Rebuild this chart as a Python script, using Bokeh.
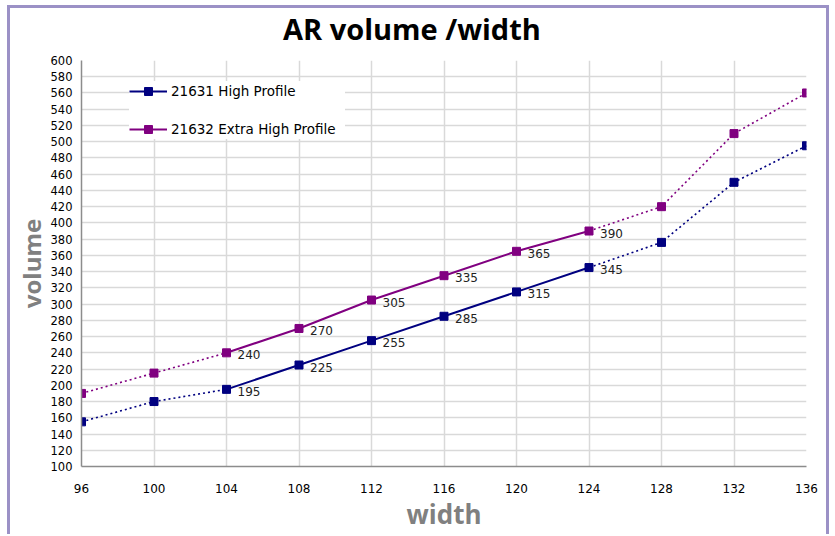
from bokeh.plotting import figure
from bokeh.models import ColumnDataSource, FixedTicker, Range1d, Legend, LegendItem, Div
from bokeh.layouts import column
from bokeh.embed import file_html
from bokeh.resources import INLINE
from bokeh.core.properties import value

# ---- data ----
widths = [96, 100, 104, 108, 112, 116, 120, 124, 128, 132, 136]
high_profile = [155, 180, 195, 225, 255, 285, 315, 345, 376, 450, 495]
extra_high_profile = [190, 215, 240, 270, 305, 335, 365, 390, 420, 510, 560]
solid_start, solid_end = 2, 7          # indices of the measured (solid) part
x_ticks = list(range(96, 137, 4))
y_ticks = list(range(100, 601, 20))
series_names = ["21631 High Profile", "21632 Extra High Profile"]
chart_title = "AR volume /width"

BLUE = "#000080"
PURPLE = "#800080"
BORDER = "3px solid #9b91c6"

title_div = Div(width=816, height=44, margin=0,
                text=('<div style="margin:7px 0 0 273px; font-family:\'Open Sans\'; '
                      'font-weight:bold; font-size:29px; line-height:28px; color:black; '
                      'white-space:nowrap;">' + chart_title + '</div>'))

p = figure(width=816, height=482, output_backend="svg", toolbar_location=None, title=None,
           x_range=Range1d(96, 136), y_range=Range1d(100, 600), margin=0,
           min_border_left=71, min_border_right=20, min_border_top=8, min_border_bottom=68)

p.outline_line_color = None
p.background_fill_color = "white"

# axes
for ax in (p.xaxis[0], p.yaxis[0]):
    ax.axis_line_color = "#8c8c8c"
    ax.axis_line_width = 1.5
    ax.major_tick_line_color = None
    ax.minor_tick_line_color = None
    ax.major_tick_out = 0
    ax.major_tick_in = 0
    ax.major_label_text_font = "DejaVu Sans"
    ax.major_label_text_color = "black"
    ax.axis_label_text_font = "Open Sans"
    ax.axis_label_text_font_style = "bold"
    ax.axis_label_text_color = "#808080"

p.xaxis.ticker = FixedTicker(ticks=x_ticks)
p.yaxis.ticker = FixedTicker(ticks=y_ticks)
p.xaxis.major_label_text_font_size = "12px"
p.yaxis.major_label_text_font_size = "11.5px"
p.xaxis.major_label_standoff = 17
p.yaxis.major_label_standoff = 9
p.xaxis.axis_label = "width"
p.yaxis.axis_label = "volume"
p.xaxis.axis_label_text_font_size = "26px"
p.yaxis.axis_label_text_font_size = "24px"
p.xaxis.axis_label_standoff = 0
p.yaxis.axis_label_standoff = 0

p.xgrid.grid_line_color = "#d9d9d9"
p.ygrid.grid_line_color = "#d9d9d9"
p.xgrid.grid_line_width = 1.5
p.ygrid.grid_line_width = 1.5

legend_items = []
for name, vals, col in ((series_names[0], high_profile, BLUE),
                        (series_names[1], extra_high_profile, PURPLE)):
    # dotted (extrapolated) parts
    p.line(widths[:solid_start + 1], vals[:solid_start + 1], line_color=col,
           line_width=1.6, line_dash="2 3")
    p.line(widths[solid_end:], vals[solid_end:], line_color=col,
           line_width=1.6, line_dash="2 3")
    # solid part
    solid = p.line(widths[solid_start:solid_end + 1], vals[solid_start:solid_end + 1],
                   line_color=col, line_width=2)
    marks = p.scatter(widths, vals, marker="square", size=8, fill_color=col, line_color=col)
    lab_src = ColumnDataSource(dict(x=widths[solid_start:solid_end + 1],
                                    y=vals[solid_start:solid_end + 1],
                                    t=[str(v) for v in vals[solid_start:solid_end + 1]]))
    p.text(x="x", y="y", text="t", source=lab_src, x_offset=11, y_offset=2,
           text_font=value("DejaVu Sans"), text_font_size="12px", text_color="#222222",
           text_baseline="middle", text_align="left")
    legend_items.append(LegendItem(label=name, renderers=[solid, marks]))

legend = Legend(items=legend_items, location=(48, 327))
legend.border_line_color = None
legend.background_fill_color = "white"
legend.background_fill_alpha = 1
legend.label_text_font = "DejaVu Sans"
legend.label_text_font_size = "13.5px"
legend.label_text_color = "black"
legend.glyph_width = 38
legend.glyph_height = 20
legend.label_height = 20
legend.label_width = 174
legend.spacing = 18
legend.padding = 11
legend.label_standoff = 4
legend.margin = 0
p.add_layout(legend)

page = column(title_div, p, spacing=0, margin=0)
page.styles = {"margin-left": "7px", "margin-top": "5px",
               "border-left": BORDER, "border-top": BORDER, "border-right": BORDER}

open("out.html", "w").write(file_html(page, INLINE))
